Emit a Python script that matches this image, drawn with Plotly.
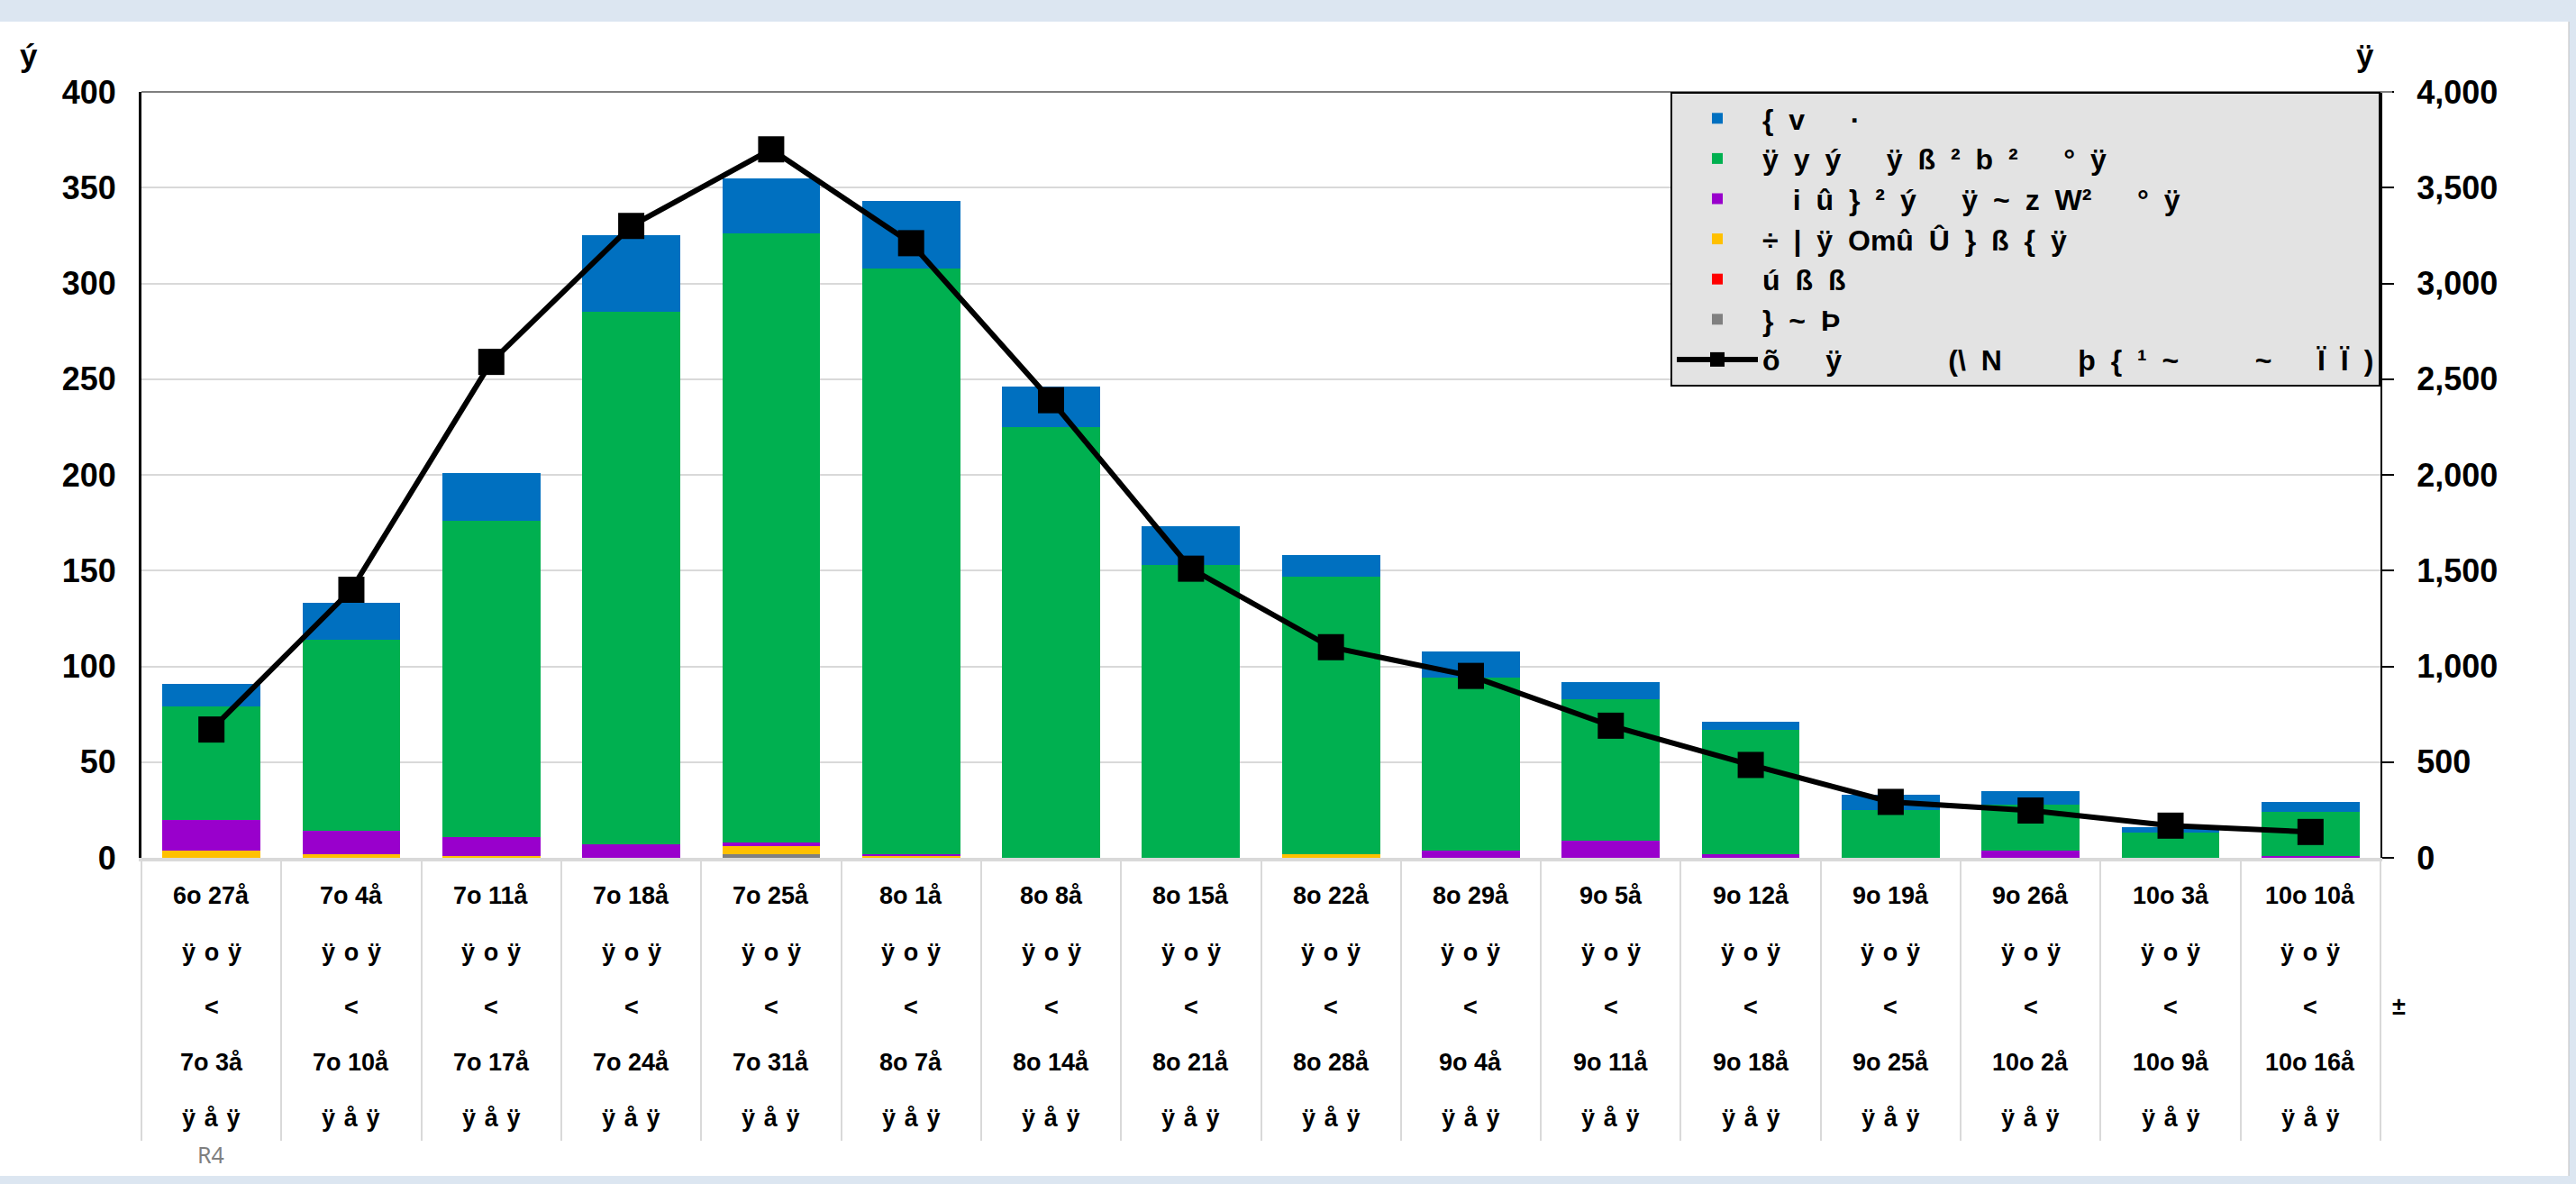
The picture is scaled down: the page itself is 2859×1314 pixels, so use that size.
import plotly.graph_objects as go

# ---------------- data ----------------
week_start = ["6o 27å", "7o 4å", "7o 11å", "7o 18å", "7o 25å", "8o 1å", "8o 8å", "8o 15å",
              "8o 22å", "8o 29å", "9o 5å", "9o 12å", "9o 19å", "9o 26å", "10o 3å", "10o 10å"]
week_mid1 = "ÿ o ÿ"
week_mid2 = "<"
week_end = ["7o 3å", "7o 10å", "7o 17å", "7o 24å", "7o 31å", "8o 7å", "8o 14å", "8o 21å",
            "8o 28å", "9o 4å", "9o 11å", "9o 18å", "9o 25å", "10o 2å", "10o 9å", "10o 16å"]
week_tail = "ÿ å ÿ"

gray_vals   = [0, 0, 0, 0, 2, 0, 0, 0, 0, 0, 0, 0, 0, 0, 0, 0]
red_vals    = [0, 0, 0, 0, 0, 0, 0, 0, 0, 0, 0, 0, 0, 0, 0, 0]
orange_vals = [4, 2, 1, 0, 4, 1, 0, 0, 2, 0, 0, 0, 0, 0, 0, 0]
purple_vals = [16, 12, 10, 7, 2, 1, 0, 0, 0, 4, 9, 2, 0, 4, 0, 1]
green_vals  = [59, 100, 165, 278, 318, 306, 225, 153, 145, 90, 74, 65, 25, 24, 13, 23]
blue_vals   = [12, 19, 25, 40, 29, 35, 21, 20, 11, 14, 9, 4, 8, 7, 3, 5]
line_vals   = [670, 1400, 2590, 3300, 3700, 3210, 2390, 1510, 1100, 950, 690, 485, 292, 247, 168, 135]

name_blue   = "{ v   ·"
name_green  = "ÿ y ý   ÿ ß ² b ²   ° ÿ"
name_purple = "  i û } ² ý   ÿ ~ z W²   ° ÿ"
name_orange = "÷ | ÿ Omû Û } ß { ÿ"
name_red    = "ú ß ß"
name_gray   = "} ~ Þ"
name_line   = "õ   ÿ       (\\ N     þ { ¹ ~     ~   Ï Ï )"

left_title = "ý"
right_title = "ÿ"
corner_mark = "±"
footnote = "R4"

# ---------------- layout constants ----------------
W, H = 2859, 1314
ML, MR, MT, MB = 157, 217, 102, 362
PW, PH = W - ML - MR, H - MT - MB
FONT = "Liberation Sans"
SP_NORMAL = "\u00a0"
SP_MID = "\u00a0\u200a"
SP_WIDE = "\u00a0\u2005"


def px_x(p):
    return (p - ML) / PW


def px_y(p):
    return (H - MB - p) / PH


def nb(s, sp=SP_NORMAL):
    return s.replace(" ", sp)


fig = go.Figure()
series = [
    (name_gray, gray_vals, "#808080", 6),
    (name_red, red_vals, "#ff0000", 5),
    (name_orange, orange_vals, "#ffc000", 4),
    (name_purple, purple_vals, "#9900cc", 3),
    (name_green, green_vals, "#00b050", 2),
    (name_blue, blue_vals, "#0070c0", 1),
]
for nm, vals, col, rank in series:
    fig.add_trace(go.Bar(
        x=week_start, y=vals, name=nb(nm, SP_WIDE), marker=dict(color=col, line=dict(width=0)),
        legendrank=rank, legendgroup=nm, yaxis="y"))

fig.add_trace(go.Scatter(
    x=week_start, y=line_vals, name=nb(name_line, SP_WIDE), mode="lines+markers",
    line=dict(color="#000000", width=6),
    marker=dict(symbol="square", size=29, color="#000000"),
    legendrank=7, legendgroup="line", yaxis="y2"))

# category table text
rows_y = [994, 1057, 1118, 1179, 1241]
annotations = []
for i, cat in enumerate(week_start):
    texts = [(week_start[i], SP_NORMAL), (week_mid1, SP_MID), (week_mid2, SP_NORMAL),
             (week_end[i], SP_NORMAL), (week_tail, SP_MID)]
    for (t, sp), ry in zip(texts, rows_y):
        annotations.append(dict(
            x=cat, xref="x", y=px_y(ry), yref="paper", xanchor="center", yanchor="middle",
            text="<b>" + nb(t, sp).replace("<", "&lt;") + "</b>", showarrow=False,
            font=dict(family=FONT, size=27, color="#000000")))

annotations += [
    dict(x=px_x(32), y=px_y(62), xref="paper", yref="paper", xanchor="center", yanchor="middle",
         text="<b>" + left_title + "</b>", showarrow=False,
         font=dict(family=FONT, size=35, color="#000000")),
    dict(x=px_x(2625), y=px_y(62), xref="paper", yref="paper", xanchor="center", yanchor="middle",
         text="<b>" + right_title + "</b>", showarrow=False,
         font=dict(family=FONT, size=35, color="#000000")),
    dict(x=px_x(2662), y=px_y(1117), xref="paper", yref="paper", xanchor="center", yanchor="middle",
         text="<b>" + corner_mark + "</b>", showarrow=False,
         font=dict(family=FONT, size=27, color="#000000")),
    dict(x=px_x(234), y=px_y(1281), xref="paper", yref="paper", xanchor="center", yanchor="middle",
         text=footnote, showarrow=False,
         font=dict(family="Noto Sans", size=25, color="#7f7f7f")),
]

shapes = [
    # white chart area inside light-blue frame
    dict(type="rect", xref="paper", yref="paper", x0=px_x(-5), x1=px_x(2851),
         y0=px_y(1305), y1=px_y(24), fillcolor="#ffffff", line=dict(width=0), layer="below"),
    dict(type="line", xref="paper", yref="paper", x0=px_x(2851), x1=px_x(2851),
         y0=px_y(1305), y1=px_y(24), line=dict(color="#bfbfbf", width=1)),
    # top border of plot area
    dict(type="line", xref="paper", yref="paper", x0=0, x1=px_x(2655), y0=1, y1=1,
         line=dict(color="#7f7f7f", width=2)),
]

fig.update_layout(
    width=W, height=H,
    margin=dict(l=ML, r=MR, t=MT, b=MB),
    paper_bgcolor="#dce6f1", plot_bgcolor="#ffffff",
    barmode="stack", bargap=0.3,
    font=dict(family=FONT, color="#000000"),
    xaxis=dict(type="category", range=[-0.5, len(week_start) - 0.5], showticklabels=False,
               ticks="outside", tickson="boundaries",
               ticklen=310, tickcolor="#d9d9d9", tickwidth=2,
               showline=True, linecolor="#d9d9d9", linewidth=4, showgrid=False, zeroline=False),
    yaxis=dict(range=[0, 400], dtick=50, showline=True, linecolor="#000000", linewidth=3,
               showgrid=True, gridcolor="#d9d9d9", gridwidth=2, zeroline=False, ticks="",
               tickfont=dict(family=FONT, size=36, weight="bold"), ticklabelstandoff=18),
    yaxis2=dict(range=[0, 4000], dtick=500, overlaying="y", side="right", tickformat=",d",
                showline=True, linecolor="#000000", linewidth=2, showgrid=False, zeroline=False,
                ticks="outside", ticklen=13, tickwidth=2, tickcolor="#000000",
                tickfont=dict(family=FONT, size=36, weight="bold"), ticklabelstandoff=18),
    legend=dict(x=1, xanchor="right", y=1, yanchor="top", bgcolor="#e3e3e3",
                bordercolor="#000000", borderwidth=2, traceorder="grouped", tracegroupgap=0,
                font=dict(family=FONT, size=32, color="#000000", weight="bold"), itemwidth=90,
                itemclick=False),
    annotations=annotations,
    shapes=shapes,
    showlegend=True,
)

fig.write_html("out.html", config={"displayModeBar": False},
               post_script="document.body.style.margin='0';")
